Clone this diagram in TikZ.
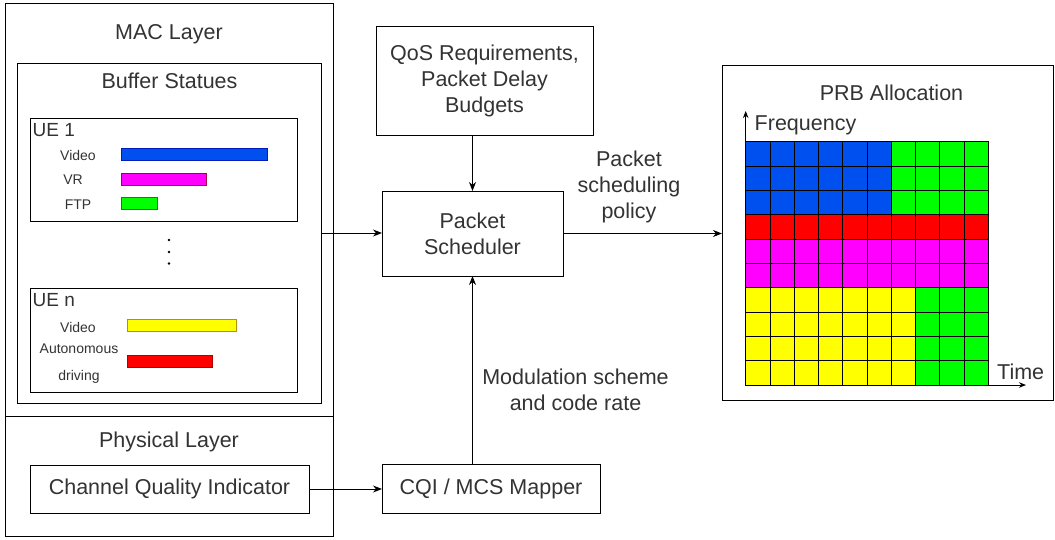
\documentclass[tikz,border=0pt]{standalone}
\usepackage{fontspec}
\setmainfont{Liberation Sans}
\usetikzlibrary{arrows.meta}
\definecolor{txt}{HTML}{333333}
\definecolor{cblue}{HTML}{0050EF}
\definecolor{cblueS}{HTML}{001DBC}
\definecolor{cgreen}{HTML}{00FF00}
\definecolor{cgreenS}{HTML}{2D7600}
\definecolor{cmag}{HTML}{FF00FF}
\definecolor{cmagS}{HTML}{A50040}
\definecolor{cred}{HTML}{FF0000}
\definecolor{credS}{HTML}{B20000}
\definecolor{cyel}{HTML}{FFFF00}
\definecolor{cyelS}{HTML}{B09500}
\begin{document}
\begin{tikzpicture}[x=1pt,y=-1pt,
  box/.style={draw=black, line width=1pt, rectangle, inner sep=0pt, outer sep=0pt, text=txt, align=center, font=\fontsize{21.5}{26}\selectfont},
  big/.style={text=txt, inner sep=0pt, align=center, font=\fontsize{21.5}{26}\selectfont},
  uel/.style={text=txt, inner sep=0pt, anchor=west, font=\fontsize{19}{22}\selectfont},
  small/.style={text=txt, inner sep=0pt, font=\fontsize{14}{17}\selectfont},
  bar/.style={draw, line width=0.8pt, rectangle, inner sep=0pt, outer sep=0pt, minimum height=12pt},
  arr/.style={-{Stealth[length=9pt,width=7pt]}, line width=1pt, draw=black},
  axarr/.style={-{Stealth[length=7pt,width=5.5pt]}, line width=1pt, draw=black},
  cell/.style={draw=black, line width=0.9pt}
]
\useasboundingbox (0,0) rectangle (1055,539);
\fill[white] (0,0) rectangle (1055,539);

% MAC layer / physical layer
\node[box, minimum width=328pt, minimum height=413pt] (mac) at (169,209.5) {};
\node[big] (macl) at (169,34) {MAC Layer};
\node[box, minimum width=328pt, minimum height=120pt] (phy) at (169,476) {};
\node[big] (phyl) at (169,442) {Physical Layer};

\node[box, minimum width=304pt, minimum height=340pt] (buf) at (169,233) {};
\node[big] (bufl) at (169.5,81) {Buffer Statues};

% UE 1
\node[box, minimum width=267pt, minimum height=103pt] (ue1) at (163.5,169.5) {};
\node[uel] (ue1l) at (32.5,130) {UE 1};
\node[small] (v1l) at (78,155) {Video};
\node[small] (vrl) at (73,180) {VR};
\node[small] (ftpl) at (78,205) {FTP};
\node[bar, fill=cblue, draw=cblueS, minimum width=146pt, anchor=west] (v1bar) at (121,154.5) {};
\node[bar, fill=cmag, draw=cmagS, minimum width=85pt, anchor=west] (vrbar) at (121,179) {};
\node[bar, fill=cgreen, draw=cgreenS, minimum width=36pt, anchor=west] (ftpbar) at (121,203) {};

% dots
\fill[black] (169,240) circle (1.3) (169,252) circle (1.3) (169,263.5) circle (1.3);

% UE n
\node[box, minimum width=267pt, minimum height=104pt] (uen) at (163.5,340) {};
\node[uel] (uenl) at (32.5,300) {UE n};
\node[small] (vnl) at (78,327) {Video};
\node[small] (autl) at (79,349) {Autonomous};
\node[small] (drvl) at (79,377) {driving};
\node[bar, fill=cyel, draw=cyelS, minimum width=109pt, anchor=west] (vnbar) at (127,325) {};
\node[bar, fill=cred, draw=credS, minimum width=85pt, anchor=west] (autbar) at (127,361) {};

% Channel quality indicator
\node[box, minimum width=279pt, minimum height=48pt] (cqi) at (169.5,489) {Channel Quality Indicator};

% middle column
\node[box, minimum width=217pt, minimum height=109pt] (qos) at (484.5,81.2) {QoS Requirements,\\Packet Delay\\Budgets};
\node[box, minimum width=181pt, minimum height=85pt] (sched) at (472.5,233.5) {Packet\\Scheduler};
\node[box, minimum width=218pt, minimum height=49pt] (mapper) at (491,488.5) {CQI / MCS Mapper};

\node[big] (poll) at (629,187) {Packet\\scheduling\\policy};
\node[big] (modl) at (575.5,390) {Modulation scheme\\and code rate};

% PRB allocation
\node[box, minimum width=331pt, minimum height=334.5pt] (prb) at (887.5,233) {};
\node[big] (prbl) at (891.5,93) {PRB Allocation};

% grid
\def\cw{24.26}
\def\ch{24.33}
\foreach \r in {0,...,9}{
  \foreach \c in {0,...,9}{
    \pgfmathsetmacro{\xx}{745.7+\c*\cw}
    \pgfmathsetmacro{\yy}{141.7+\r*\ch}
    \ifnum\r<3
      \ifnum\c<6 \def\cc{cblue}\else\def\cc{cgreen}\fi
    \else\ifnum\r=3 \def\cc{cred}
    \else\ifnum\r<6 \def\cc{cmag}
    \else
      \ifnum\c<7 \def\cc{cyel}\else\def\cc{cgreen}\fi
    \fi\fi\fi
    \filldraw[cell, fill=\cc] (\xx,\yy) rectangle ++(\cw,\ch);
  }
}
\coordinate (org) at (745.7,385);
\coordinate (ftop) at (745.7,111);
\coordinate (tend) at (1026,385);
\draw[axarr] (org) -- (ftop);
\draw[axarr] (org) -- (tend);
\node[big, anchor=west] (freql) at (754.5,125.5) {Frequency};
\node[big, anchor=west] (timel) at (997,372) {Time};

% connectors
\draw[arr] (buf.east) -- (buf.east -| sched.west);
\draw[arr] (qos.south -| sched.north) -- (sched.north);
\draw[arr] (sched.east) -- (sched.east -| prb.west);
\draw[arr] (sched.south |- mapper.north) -- (sched.south);
\draw[arr] (cqi.east) -- (cqi.east -| mapper.west);
\end{tikzpicture}
\end{document}
